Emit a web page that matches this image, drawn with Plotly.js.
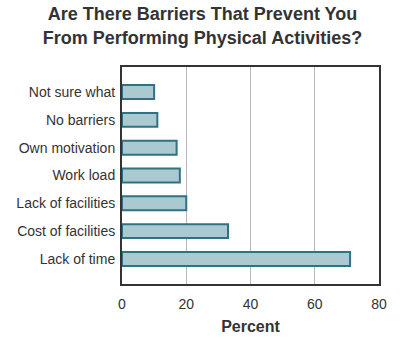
<!DOCTYPE html>
<html>
<head>
<meta charset="utf-8">
<script src="https://cdn.plot.ly/plotly-3.0.1.min.js"></script>
<style>html,body{margin:0;padding:0;background:#fff;}#chart{width:405px;height:339px;}</style>
</head>
<body>
<div id="chart"></div>
<script>
const categories = ["Lack of time", "Cost of facilities", "Lack of facilities", "Work load", "Own motivation", "No barriers", "Not sure what"];
const percents = [71, 33, 20, 18, 17, 11, 10];
const xTicks = [0, 20, 40, 60, 80];

const trace = {
  type: "bar",
  orientation: "h",
  y: categories,
  x: percents,
  width: 0.5,
  marker: {color: "#abc9d0", line: {color: "#2f7282", width: 2}},
  hoverinfo: "none"
};

const layout = {
  width: 405, height: 339,
  margin: {l: 122, r: 26, t: 67, b: 55},
  paper_bgcolor: "#fff", plot_bgcolor: "#fff",
  font: {family: "Liberation Sans, Arial, sans-serif", color: "#333", size: 14},
  title: {text: "Are There Barriers That Prevent You<br>From Performing Physical Activities?",
          font: {size: 18, color: "#333", weight: "bold"}, x: 0.5, xanchor: "center", y: 0.94, yanchor: "top"},
  xaxis: {range: [0, 80], tickvals: xTicks, ticktext: xTicks.map(String), showgrid: true, gridcolor: "#b8b8b8", gridwidth: 1,
          zeroline: false, showline: true, linecolor: "#333", linewidth: 2, mirror: true, ticks: "", ticklen: 0,
          tickfont: {size: 14}, ticklabelstandoff: 6, title: {text: "Percent", font: {size: 16, weight: "bold"}, standoff: 10}},
  yaxis: {type: "category", categoryorder: "array", categoryarray: categories, range: [-0.9, 6.9],
          showgrid: false, zeroline: false, showline: true, linecolor: "#333", linewidth: 2, mirror: true,
          ticks: "", tickfont: {size: 14}, ticklabelstandoff: 2},
  showlegend: false
};

Plotly.newPlot("chart", [trace], layout, {displayModeBar: false, staticPlot: true});
</script>
</body>
</html>
